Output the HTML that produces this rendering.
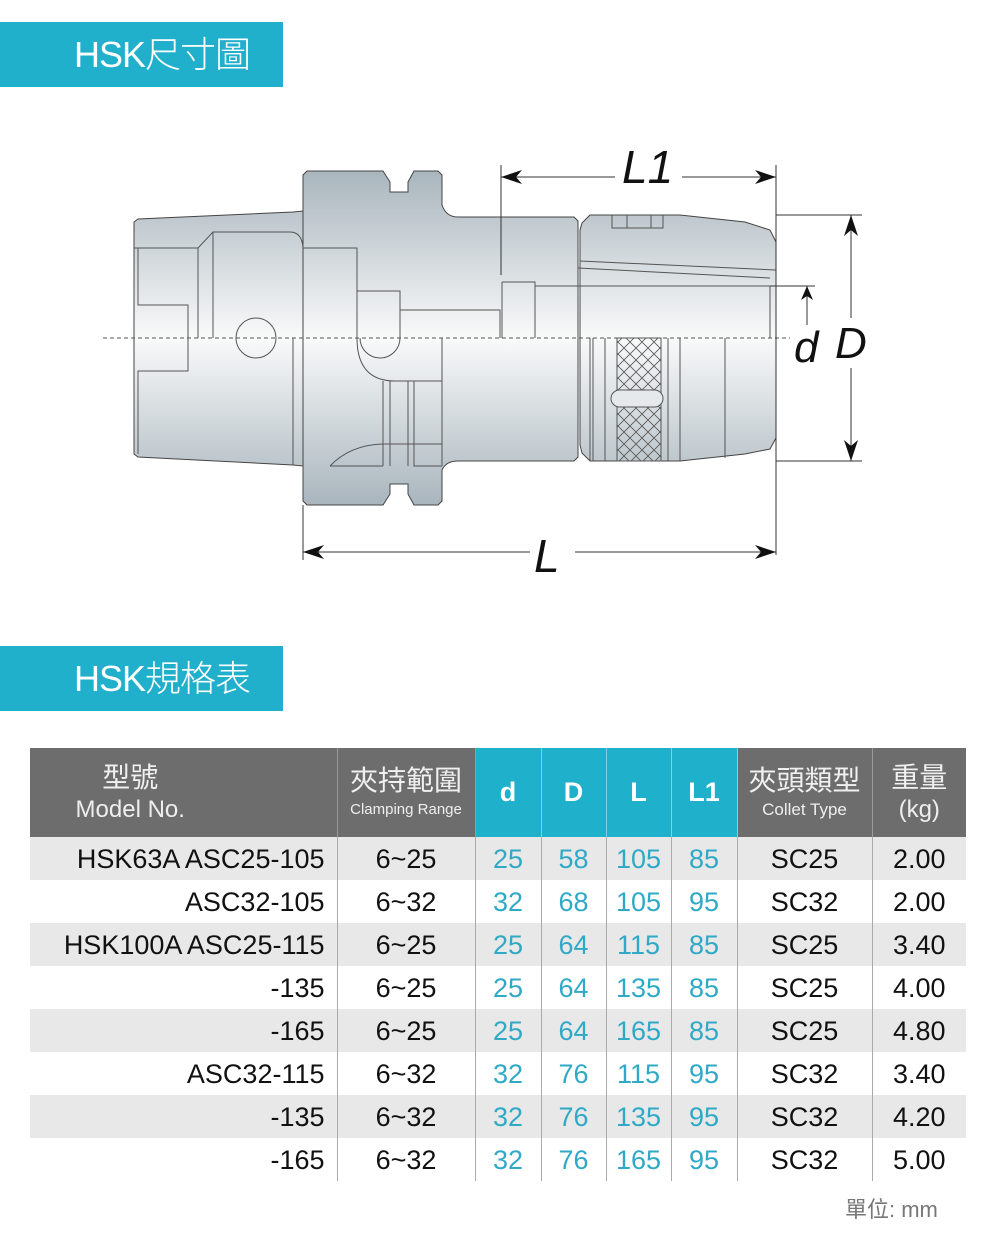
<!DOCTYPE html>
<html><head><meta charset="utf-8">
<style>
*{margin:0;padding:0;box-sizing:border-box}
body{width:1000px;height:1237px;background:#fff;position:relative;overflow:hidden;font-family:"Liberation Sans","Noto Sans CJK TC",sans-serif}
.bar{position:absolute;left:0;width:283px;height:65px;background:#20b0cb;color:#fff;font-size:36px;font-weight:300;line-height:65px;padding-left:74px;letter-spacing:-1px}
table{position:absolute;left:30px;top:748px;border-collapse:collapse;table-layout:fixed}
td,th{padding:0;text-align:center;font-weight:normal}
th{height:89px;color:#fff;border-right:1px solid #9a9a9a;vertical-align:middle}
th.g{background:#6e6d6d}
th.b{background:#1fb0cc;font-weight:bold;font-size:27px;border-right:1px solid #7fd0e0}
th .cn{font-size:28px;line-height:34px;color:#f0f0f0}
th .en{font-size:15px;line-height:24px;color:#eee}
td{height:43px;font-size:27px;color:#111;border-right:1px solid #aaa;line-height:41px;padding-top:2px}
td.m{text-align:right;padding-right:12px}
td.c{color:#2fa9c6}
tr.a td{background:#e8e8e8}
td:last-child,th:last-child{border-right:none}
</style></head><body>
<div class="bar" style="top:22px">HSK尺寸圖</div>
<div class="bar" style="top:646px">HSK規格表</div>

<svg style="position:absolute;left:0;top:0" width="1000" height="620" viewBox="0 0 1000 620">
<defs>
<linearGradient id="gr" gradientUnits="userSpaceOnUse" x1="0" y1="171" x2="0" y2="505">
<stop offset="0" stop-color="#a9b5bd"/><stop offset="0.5" stop-color="#f9fafa"/><stop offset="1" stop-color="#a9b5bd"/>
</linearGradient>
<pattern id="kn" width="12" height="12" patternUnits="userSpaceOnUse">
<path d="M0 0 L12 12 M12 0 L0 12" stroke="#555" stroke-width="0.8"/>
</pattern>
</defs>
<g stroke="#444" stroke-width="1" fill="url(#gr)">
<path d="M138 219 L293 212 L303 211 L303 466 L293 465 L138 457 L134 454 L134 222 Z"/>
<path d="M307 171 L383 171 L390 182 L390 192 L408 192 L408 182 L414 171 L438 171 L442 175 L442 205 Q446 217 458 217 L574 217 L578 221 L578 457 L574 461 L458 461 Q446 461 442 470 L442 501 L438 505 L414 505 L408 494 L408 484 L390 484 L390 494 L383 505 L307 505 L303 501 L303 175 Z"/>
<path d="M590 215 L680 215 L745 222 L770 230 L776 242 L776 438 L770 449 L745 454 L680 461 L590 461 L582 453 L580 445 L580 230 L582 223 Z"/>
</g>
<g stroke="#555" stroke-width="1" fill="none">
<path d="M134 248 L198 248 L213 232 L290 232 Q302 232 303 248"/>
<path d="M138 248 L138 305 L188 305 L188 371 L138 371 L138 454"/>
<path d="M198 248 L198 338 M213 232 L213 338 M293 338 L293 465"/>
<circle cx="256" cy="338" r="20"/>
<path d="M303 248 L357 248 L357 338 M357 291 L400 291 L400 338 M400 310 L500 310 L500 338"/>
<path d="M357 338 Q357 381 395 381 M400 338 A20 20 0 0 1 360 338"/>
<path d="M383 381 L383 466 M390 381 L390 466 M408 381 L408 466 M414 381 L414 466 L442 466 M390 381 L442 381 M442 338 L442 466"/>
<path d="M330 466 Q350 445 383 444 L442 444 M330 466 L383 466"/>
<path d="M502 282 L535 282 L535 338 M502 282 L502 338 M535 286 L770 286 L770 338"/>
<path d="M578 268 L770 278 M580 261 L776 270"/>
<path d="M612 215 L612 228 L663 228 L663 215 M627 215 L627 228 M651 215 L651 228"/>
<path d="M590 338 L590 461 M593 338 L593 461 M605 338 L605 461 M668 338 L668 461 M680 338 L680 461 M725 338 L725 458"/>
</g>
<rect x="617" y="338" width="44" height="123" fill="url(#kn)" stroke="#555"/>
<rect x="611" y="390" width="52" height="17" rx="8.5" fill="#e5e9ec" stroke="#555"/>
<line x1="103" y1="338" x2="790" y2="338" stroke="#555" stroke-dasharray="4 3"/>
<g stroke="#333" stroke-width="1" fill="none">
<line x1="501" y1="165" x2="501" y2="275"/>
<line x1="776" y1="165" x2="776" y2="555"/>
<line x1="303" y1="505" x2="303" y2="560"/>
<line x1="501" y1="177" x2="615" y2="177"/><line x1="682" y1="177" x2="776" y2="177"/>
<line x1="303" y1="552" x2="530" y2="552"/><line x1="575" y1="552" x2="776" y2="552"/>
<line x1="776" y1="215" x2="862" y2="215"/><line x1="776" y1="461" x2="862" y2="461"/>
<line x1="851" y1="215" x2="851" y2="318"/><line x1="851" y1="368" x2="851" y2="461"/>
<line x1="770" y1="286" x2="815" y2="286"/><line x1="807" y1="286" x2="807" y2="325"/>
</g>
<g fill="#111">
<path d="M501 177 L522 170 L516 177 L522 184 Z"/>
<path d="M776 177 L755 170 L761 177 L755 184 Z"/>
<path d="M303 552 L324 545 L318 552 L324 559 Z"/>
<path d="M776 552 L755 545 L761 552 L755 559 Z"/>
<path d="M851 215 L844 236 L851 230 L858 236 Z"/>
<path d="M851 461 L844 440 L851 446 L858 440 Z"/>
<path d="M807 286 L801 300 L807 296 L813 300 Z"/>
</g>
<g font-family="Liberation Sans" font-style="italic" font-size="46" fill="#111">
<text x="622" y="183">L1</text>
<text x="534" y="572">L</text>
<text x="794" y="362" font-size="44">d</text>
<text x="835" y="358" font-size="44">D</text>
</g>
</svg>

<table>
<colgroup><col style="width:307px"><col style="width:138px"><col style="width:66px"><col style="width:65px"><col style="width:65px"><col style="width:66px"><col style="width:135px"><col style="width:94px"></colgroup>
<tr>
<th class="g" style="padding-right:106px"><div class="cn">型號</div><div class="en" style="font-size:24px;line-height:30px">Model No.</div></th>
<th class="g"><div class="cn">夾持範圍</div><div class="en">Clamping Range</div></th>
<th class="b">d</th><th class="b">D</th><th class="b">L</th><th class="b">L1</th>
<th class="g"><div class="cn">夾頭類型</div><div class="en" style="font-size:17px">Collet Type</div></th>
<th class="g"><div class="cn">重量</div><div class="en" style="font-size:24px;line-height:30px">(kg)</div></th>
</tr>
<tr class="a"><td class="m">HSK63A ASC25-105</td><td>6~25</td><td class="c">25</td><td class="c">58</td><td class="c">105</td><td class="c">85</td><td>SC25</td><td>2.00</td></tr>
<tr><td class="m">ASC32-105</td><td>6~32</td><td class="c">32</td><td class="c">68</td><td class="c">105</td><td class="c">95</td><td>SC32</td><td>2.00</td></tr>
<tr class="a"><td class="m">HSK100A ASC25-115</td><td>6~25</td><td class="c">25</td><td class="c">64</td><td class="c">115</td><td class="c">85</td><td>SC25</td><td>3.40</td></tr>
<tr><td class="m">-135</td><td>6~25</td><td class="c">25</td><td class="c">64</td><td class="c">135</td><td class="c">85</td><td>SC25</td><td>4.00</td></tr>
<tr class="a"><td class="m">-165</td><td>6~25</td><td class="c">25</td><td class="c">64</td><td class="c">165</td><td class="c">85</td><td>SC25</td><td>4.80</td></tr>
<tr><td class="m">ASC32-115</td><td>6~32</td><td class="c">32</td><td class="c">76</td><td class="c">115</td><td class="c">95</td><td>SC32</td><td>3.40</td></tr>
<tr class="a"><td class="m">-135</td><td>6~32</td><td class="c">32</td><td class="c">76</td><td class="c">135</td><td class="c">95</td><td>SC32</td><td>4.20</td></tr>
<tr><td class="m">-165</td><td>6~32</td><td class="c">32</td><td class="c">76</td><td class="c">165</td><td class="c">95</td><td>SC32</td><td>5.00</td></tr>
</table>
<div style="position:absolute;left:845px;top:1192px;font-size:22px;color:#777">單位: mm</div>
</body></html>
